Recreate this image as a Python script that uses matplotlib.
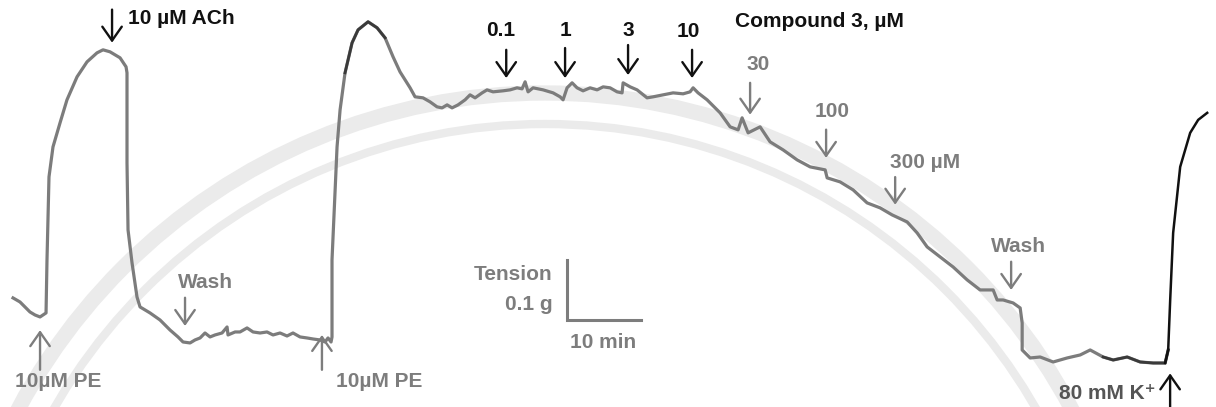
import numpy as np
import matplotlib
matplotlib.use("Agg")
import matplotlib.pyplot as plt
from matplotlib.patches import Circle

plt.rcParams["font.family"] = ["Liberation Sans", "DejaVu Sans"]

# ---------- trace: time (min) vs tension (mg) ----------
time_min = [
    1.76, 2.70, 3.38, 4.05, 4.73, 5.41, 5.81, 6.22, 6.35, 6.62, 7.16, 8.11, 9.05,
    10.41, 11.76, 13.11, 13.92, 14.86, 16.22, 17.03, 17.16, 17.16, 17.30, 17.84,
    18.51, 18.92, 20.27, 21.62, 22.97, 24.05, 24.73, 25.68, 26.35, 27.03, 27.70,
    28.38, 29.05, 30.00, 30.68, 30.81, 31.76, 32.43, 33.38, 34.19, 35.14, 36.08,
    36.89, 37.84, 38.78, 39.59, 40.54, 41.49, 42.30, 43.24, 43.92, 44.32, 44.73,
    44.86, 44.86, 45.54, 45.95, 46.62, 47.57, 48.38, 49.73, 50.95, 52.03, 53.11,
    54.05, 55.41, 56.08, 57.16, 58.11, 59.05, 59.73, 60.41, 61.08, 61.89, 62.84,
    63.51, 64.19, 65.14, 65.81, 66.62, 67.97, 68.92, 69.86, 70.54, 70.95, 71.35,
    72.03, 73.38, 74.73, 75.68, 76.08, 76.62, 77.30, 77.97, 78.78, 79.73, 80.68,
    81.49, 82.43, 83.38, 84.05, 84.19, 85.14, 86.08, 87.43, 88.24, 89.59, 90.95,
    92.30, 93.24, 93.65, 94.32, 95.54, 96.62, 97.30, 98.65, 99.73, 100.27,
    101.08, 102.70, 104.05, 105.81, 107.70, 109.46, 111.49, 111.76, 113.51,
    115.27, 117.16, 118.92, 120.54, 122.57, 123.92, 125.27, 127.03, 128.78,
    130.68, 132.43, 134.19, 134.73, 135.54, 136.89, 137.84, 138.11, 138.11,
    139.19, 140.54, 142.30, 144.19, 145.95, 147.30, 149.05, 150.41, 152.30,
    154.05, 155.81, 157.43, 157.84,
]
tension_mg = [
    111.7, 105.0, 96.7, 88.3, 83.3, 80.0, 83.3, 86.7, 175.0, 313.3, 363.3, 403.3,
    441.7, 480.0, 505.0, 520.0, 525.0, 521.7, 511.7, 496.7, 486.7, 336.7, 225.0,
    170.0, 113.3, 96.7, 86.7, 75.0, 58.3, 46.7, 38.3, 36.7, 41.7, 45.0, 53.3,
    46.7, 50.0, 53.3, 63.3, 50.0, 55.0, 55.0, 61.7, 55.0, 53.3, 55.0,
    50.0, 53.3, 48.3, 53.3, 46.7, 45.0, 43.3, 41.7, 38.3, 45.0, 38.3,
    46.7, 175.0, 363.3, 425.0, 486.7, 536.7, 558.3, 571.7, 561.7, 545.0, 513.3,
    488.3, 461.7, 446.7, 445.0, 438.3, 430.0, 428.3, 433.3, 428.3, 433.3, 441.7,
    450.0, 445.0, 453.3, 458.3, 455.0, 456.7, 458.3, 461.7, 460.0, 471.7, 455.0,
    461.7, 458.3, 453.3, 446.7, 441.7, 461.7, 470.0, 461.7, 456.7, 461.7, 458.3,
    463.3, 461.7, 455.0, 453.3, 470.0, 463.3, 458.3, 445.0, 446.7, 450.0, 453.3,
    451.7, 455.0, 461.7, 453.3, 441.7, 428.3, 420.0, 396.7, 391.7, 411.7,
    386.7, 396.7, 371.7, 358.3, 341.7, 330.0, 325.0, 311.7, 305.0,
    291.7, 270.0, 261.7, 250.0, 238.3, 220.0, 196.7, 180.0, 163.3,
    141.7, 125.0, 125.0, 108.3, 108.3, 103.3, 95.0, 70.0, 25.0,
    11.7, 13.3, 5.0, 11.7, 16.7, 25.0, 13.3, 8.3, 13.3,
    5.0, 3.3, 3.3, 25.0,
]
# KCl contracture (drawn in black)
k_time_min = [157.43, 157.84, 158.11, 158.51, 159.46, 160.81, 161.89, 163.11]
k_tension_mg = [3.3, 25.0, 108.3, 220.0, 330.0, 386.7, 408.3, 420.0]

# ---------- drug additions ----------
pe_times = [5.41, 43.5]
ach_time = 15.14
wash_times = [25.0, 136.62]
cpd_doses = ["0.1", "1", "3", "10", "30", "100", "300 µM"]
cpd_times = [68.4, 76.35, 84.86, 93.51, 101.35, 111.62, 120.95]
k_time = 158.1

GRAY = "#7d7d7d"
DARK = "#111111"

fig = plt.figure(figsize=(12.16, 4.07), dpi=100)
ax = fig.add_axes([0, 0, 1, 1])
ax.set_xlim(0, 164.3)
ax.set_ylim(-70, 608)
ax.axis("off")

# faint watermark rings in the background
for r, w in [(5.97, 11), (5.66, 6)]:
    ax.add_patch(Circle((5.45, -2.83), r, transform=fig.dpi_scale_trans,
                        fill=False, ec="#ebebeb", lw=w, zorder=0))

t = np.array(time_min)
g = np.array(tension_mg)
ax.plot(t, g, color="#7c7c7c", lw=2.3, solid_joinstyle="round", zorder=2)
# darker ink at the second PE peak and at the end of the final wash
for lo, hi in [(46.6, 52.1), (149.0, 158.0)]:
    m = (t >= lo) & (t <= hi)
    ax.plot(t[m], g[m], color="#3a3a3a", lw=2.0, zorder=3)
ax.plot(k_time_min, k_tension_mg, color="#111111", lw=1.8, zorder=3)


def arrow(x, y0, y1, color):
    ax.annotate("", xy=(x, y1), xytext=(x, y0),
                arrowprops=dict(arrowstyle="->, head_length=0.5, head_width=0.35",
                                color=color, lw=1.7, mutation_scale=20,
                                shrinkA=0, shrinkB=0))


tkw = dict(fontsize=15, fontweight="bold")

# PE
arrow(pe_times[0], -8, 58, GRAY)
ax.text(2.0, -28, "10µM PE", color=GRAY, ha="left", va="center", **tkw)
arrow(pe_times[1], -8, 50, GRAY)
ax.text(45.4, -28, "10µM PE", color=GRAY, ha="left", va="center", **tkw)

# ACh
arrow(ach_time, 592, 537, DARK)
ax.text(17.3, 578, "10 µM ACh", color=DARK, ha="left", va="center", **tkw)

# Wash
arrow(wash_times[0], 112, 65, GRAY)
ax.text(27.8, 137, "Wash", color=GRAY, ha="center", va="center", **tkw)
arrow(wash_times[1], 172, 125, GRAY)
ax.text(137.6, 197, "Wash", color=GRAY, ha="center", va="center", **tkw)

# Compound 3 cumulative doses
head_y = [478, 478, 483, 478, 417, 345, 267]
tail_y = [525, 528, 533, 525, 470, 392, 313]
lab_x = [67.6, 76.35, 84.86, 93.0, 102.4, 112.4, 120.3]
lab_y = [558, 558, 558, 555, 500, 422, 338]
for i, dose in enumerate(cpd_doses):
    c = DARK if i < 4 else GRAY
    arrow(cpd_times[i], tail_y[i], head_y[i], c)
    ha = "left" if dose.endswith("µM") else "center"
    ax.text(lab_x[i], lab_y[i], dose, color=c, ha=ha, va="center", **tkw)
ax.text(99.3, 572, "Compound 3, µM", color=DARK, ha="left", va="center", **tkw)

# KCl
arrow(k_time, -70, -14, DARK)
ax.text(156.1, -47, "80 mM K⁺", color="#555555", ha="right", va="center", **tkw)

# scale bar: 0.1 g (100 mg) x 10 min
ax.plot([76.6, 76.6, 86.6], [175, 75, 75], color=GRAY, lw=2.2,
        solid_joinstyle="miter")
ax.text(74.7, 150, "Tension", color=GRAY, ha="right", va="center", **tkw)
ax.text(74.7, 100, "0.1 g", color=GRAY, ha="right", va="center", **tkw)
ax.text(81.5, 38, "10 min", color=GRAY, ha="center", va="center", **tkw)

fig.savefig("out.png", dpi=100)
